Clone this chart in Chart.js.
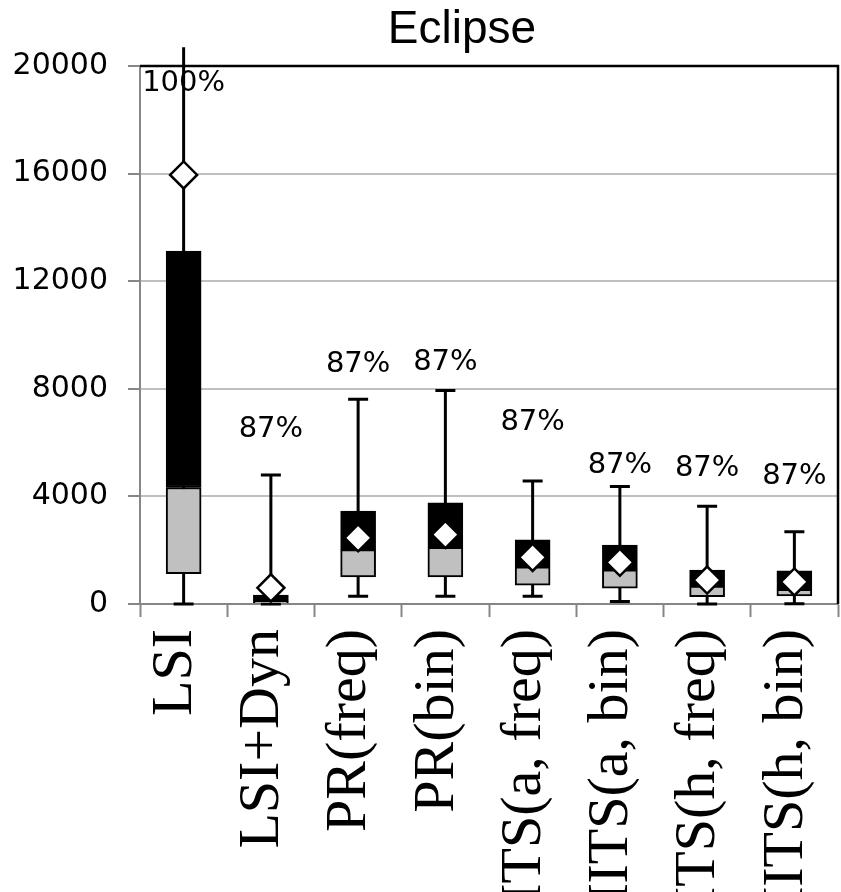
<!DOCTYPE html>
<html>
<head>
<meta charset="utf-8">
<script src="https://cdn.jsdelivr.net/npm/chart.js@4.4.1/dist/chart.umd.min.js"></script>
<style>
  html, body { margin: 0; padding: 0; background: #fff; }
  #wrap { width: 841px; height: 892px; }
</style>
</head>
<body>
<div id="wrap"><canvas id="c" width="841" height="892"></canvas></div>
<script>
// ---- data ----
const categories = ['LSI', 'LSI+Dyn', 'PR(freq)', 'PR(bin)', 'HITS(a, freq)', 'HITS(a, bin)', 'HITS(h, freq)', 'HITS(h, bin)'];
const whiskerLow  = [0,     0,    290,  290,  290,  90,   0,    10];
const q1          = [1130,  40,   1010, 1010, 700,  590,  270,  300];
const median      = [4330,  80,   2020, 2110, 1380, 1270, 670,  550];
const q3          = [13120, 330,  3450, 3760, 2390, 2190, 1260, 1230];
const whiskerHigh = [20700, 4800, 7610, 7940, 4570, 4370, 3630, 2690];
const means       = [15950, 600,  2460, 2580, 1730, 1550, 890,  820];
const pctLabels   = ['100%', '87%', '87%', '87%', '87%', '87%', '87%', '87%'];
const pctLabelAt  = [19360, 6470, 8900, 8970, 6730, 5160, 5050, 4750];
const yTicks      = [0, 4000, 8000, 12000, 16000, 20000];
const chartTitle  = 'Eclipse';

const lowerBox = q1.map((v, i) => [v, median[i]]);
const upperBox = median.map((v, i) => [v, q3[i]]);

const boxPlotExtras = {
  id: 'boxPlotExtras',
  beforeDatasetsDraw(chart) {
    const x = chart.scales.x, y = chart.scales.y, ctx = chart.ctx;
    ctx.save();
    ctx.strokeStyle = '#000';
    ctx.lineWidth = 3;
    ctx.lineCap = 'butt';
    categories.forEach((c, i) => {
      const px = x.getPixelForValue(i);
      const yl = y.getPixelForValue(whiskerLow[i]);
      const yh = y.getPixelForValue(whiskerHigh[i]);
      ctx.beginPath();
      ctx.moveTo(px, yl);
      ctx.lineTo(px, yh);
      ctx.stroke();
      const cap = 10;
      ctx.beginPath();
      ctx.moveTo(px - cap, yl); ctx.lineTo(px + cap, yl);
      if (whiskerHigh[i] <= y.max) { ctx.moveTo(px - cap, yh); ctx.lineTo(px + cap, yh); }
      ctx.stroke();
    });
    ctx.restore();
  },
  afterDatasetsDraw(chart) {
    const x = chart.scales.x, y = chart.scales.y, ctx = chart.ctx;
    ctx.save();
    ctx.fillStyle = '#000';
    ctx.font = '29px "DejaVu Sans"';
    ctx.textAlign = 'center';
    ctx.textBaseline = 'middle';
    pctLabels.forEach((t, i) => {
      ctx.fillText(t, x.getPixelForValue(i), y.getPixelForValue(pctLabelAt[i]));
    });
    // frame: top and right border
    const a = chart.chartArea;
    ctx.strokeStyle = '#000';
    ctx.lineWidth = 2.5;
    ctx.beginPath();
    ctx.moveTo(a.left, a.top);
    ctx.lineTo(a.right, a.top);
    ctx.lineTo(a.right, a.bottom);
    ctx.stroke();
    ctx.restore();
  },
  afterDraw(chart) {
    const ctx = chart.ctx;
    ctx.save();
    ctx.fillStyle = '#000';
    ctx.font = '46px "Liberation Sans", Arial, sans-serif';
    ctx.textAlign = 'center';
    ctx.textBaseline = 'alphabetic';
    ctx.fillText(chartTitle, 462, 43);
    ctx.restore();
  }
};

new Chart(document.getElementById('c'), {
  type: 'bar',
  data: {
    labels: categories,
    datasets: [
      {
        label: 'Q1-Median',
        data: lowerBox,
        backgroundColor: '#c0c0c0',
        borderColor: '#000',
        borderWidth: 2,
        borderSkipped: false,
        barThickness: 35,
        grouped: false,
        order: 2
      },
      {
        label: 'Median-Q3',
        data: upperBox,
        backgroundColor: '#000',
        borderColor: '#000',
        borderWidth: 2,
        borderSkipped: false,
        barThickness: 35,
        grouped: false,
        order: 1
      },
      {
        type: 'line',
        label: 'Mean',
        data: means,
        showLine: false,
        pointStyle: 'rectRot',
        pointRadius: 13.5,
        pointBackgroundColor: '#fff',
        pointBorderColor: '#000',
        pointBorderWidth: 2.5,
        clip: false,
        order: 0
      }
    ]
  },
  options: {
    responsive: false,
    animation: false,
    events: [],
    layout: { autoPadding: false, padding: { left: 0, right: 3, top: 66, bottom: 0 } },
    plugins: {
      legend: { display: false },
      tooltip: { enabled: false },
      title: { display: false }
    },
    scales: {
      x: {
        offset: true,
        afterFit(scale) {
          scale.height = 288;
          scale.paddingLeft = 0;
          scale.paddingRight = 0;
        },
        grid: {
          display: true,
          offset: true,
          drawOnChartArea: false,
          drawTicks: true,
          tickLength: 13,
          tickColor: '#868686',
          tickWidth: 2
        },
        border: { display: true, color: '#868686', width: 2 },
        ticks: {
          autoSkip: false,
          minRotation: 90,
          maxRotation: 90,
          padding: 12,
          labelOffset: -8,
          color: '#000',
          font: { family: '"Liberation Serif", "Times New Roman", serif', size: 58 }
        }
      },
      y: {
        min: 0,
        max: 20000,
        afterFit(scale) { scale.width = 140; },
        afterBuildTicks(scale) { scale.ticks = yTicks.map(v => ({ value: v })); },
        grid: {
          color: '#c0c0c0',
          lineWidth: 2,
          tickLength: 12,
          tickColor: '#868686',
          tickWidth: 2
        },
        border: { display: true, color: '#868686', width: 2 },
        ticks: {
          padding: 20,
          color: '#000',
          font: { family: '"DejaVu Sans", sans-serif', size: 30 },
          callback: (v) => String(v)
        }
      }
    }
  },
  plugins: [boxPlotExtras]
});
</script>
</body>
</html>
